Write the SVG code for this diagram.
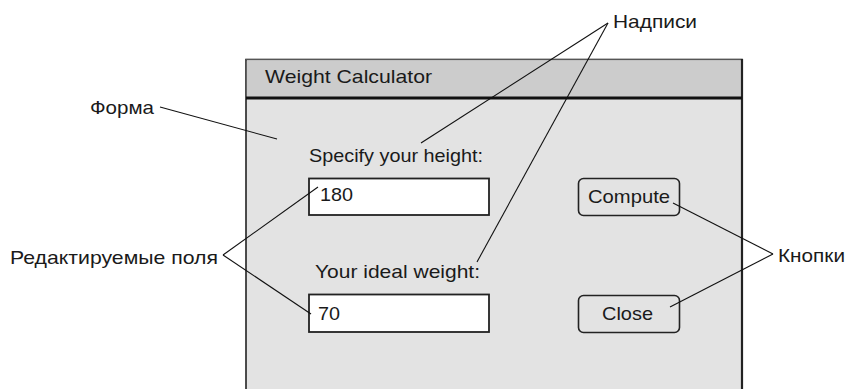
<svg xmlns="http://www.w3.org/2000/svg" width="847" height="389" viewBox="0 0 847 389">
<style>
text{font-family:"Liberation Sans",Arial,sans-serif;font-size:19px;fill:#1a1a1a}
.conn line{stroke:#111;stroke-width:1.1;fill:none}
.field{fill:#fff;stroke:#222;stroke-width:1.8}
.btn{fill:#e3e3e3;stroke:#222;stroke-width:1.6}
</style>
<rect width="847" height="389" fill="#fff"/>
<g id="form">
  <rect x="246" y="59.5" width="496" height="335" fill="#e3e3e3" stroke="#222" stroke-width="1.6"/>
  <rect x="246.8" y="60.3" width="494" height="37" fill="#cccccc"/>
  <line x1="246" y1="59.5" x2="742" y2="59.5" stroke="#555" stroke-width="1.2"/>
  <line x1="742" y1="59" x2="742" y2="389" stroke="#222" stroke-width="2.2"/>
  <line x1="246" y1="98" x2="742" y2="98" stroke="#111" stroke-width="3"/>
  <text x="265" y="83" textLength="167" lengthAdjust="spacingAndGlyphs">Weight Calculator</text>
</g>
<g id="label-height"><text x="309" y="162" textLength="174" lengthAdjust="spacingAndGlyphs">Specify your height:</text></g>
<g id="label-weight"><text x="315" y="278" textLength="165" lengthAdjust="spacingAndGlyphs">Your ideal weight:</text></g>
<g id="field-height">
  <rect class="field" x="309" y="178.5" width="180" height="36.5"/>
  <text x="320" y="201" textLength="33" lengthAdjust="spacingAndGlyphs">180</text>
</g>
<g id="field-weight">
  <rect class="field" x="309" y="294.5" width="180" height="37.5"/>
  <text x="318" y="320" textLength="22" lengthAdjust="spacingAndGlyphs">70</text>
</g>
<g id="btn-compute">
  <rect class="btn" x="578.5" y="178.5" width="101" height="37" rx="5"/>
  <text x="588" y="203" textLength="82" lengthAdjust="spacingAndGlyphs">Compute</text>
</g>
<g id="btn-close">
  <rect class="btn" x="578.5" y="295.5" width="101" height="37" rx="5"/>
  <text x="602" y="320" textLength="51" lengthAdjust="spacingAndGlyphs">Close</text>
</g>
<g id="note-forma"><text x="90" y="114" textLength="64" lengthAdjust="spacingAndGlyphs">Форма</text></g>
<g id="note-nadpisi"><text x="613" y="28" textLength="84" lengthAdjust="spacingAndGlyphs">Надписи</text></g>
<g id="note-polya"><text x="10" y="264" textLength="208" lengthAdjust="spacingAndGlyphs">Редактируемые поля</text></g>
<g id="note-knopki"><text x="778" y="262" textLength="67" lengthAdjust="spacingAndGlyphs">Кнопки</text></g>
<g id="connectors" class="conn">
  <line x1="160" y1="107" x2="277" y2="139"/>
  <line x1="608" y1="23" x2="421" y2="143"/>
  <line x1="608" y1="23" x2="477" y2="262"/>
  <line x1="223" y1="255" x2="318" y2="187"/>
  <line x1="223" y1="255" x2="311" y2="314"/>
  <line x1="773" y1="254" x2="673" y2="203"/>
  <line x1="773" y1="254" x2="670" y2="307"/>
</g>
</svg>
